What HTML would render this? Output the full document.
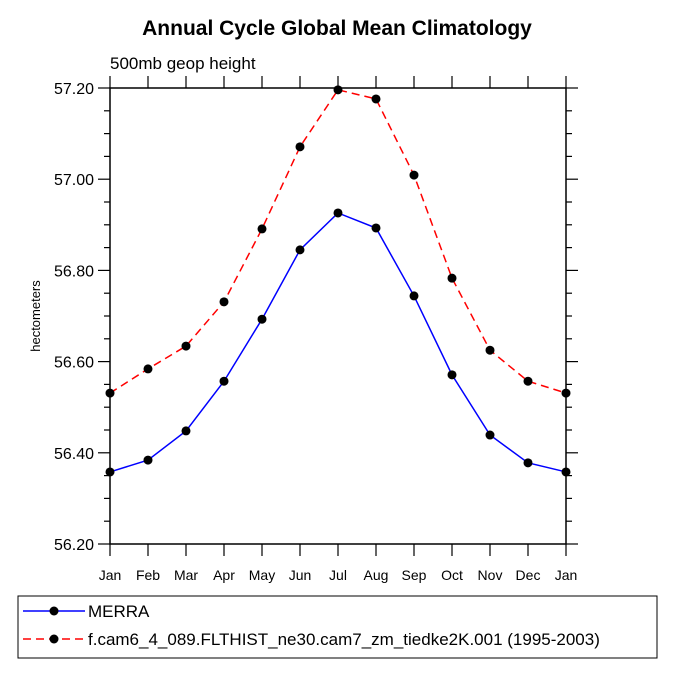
<!DOCTYPE html>
<html><head><meta charset="utf-8"><style>body{margin:0;background:#fff}svg{font-family:"Liberation Sans",Arial,sans-serif}</style></head>
<body>
<svg id="c" width="675" height="675"></svg>
<script>
const months=["Jan","Feb","Mar","Apr","May","Jun","Jul","Aug","Sep","Oct","Nov","Dec","Jan"];
const merra=[56.358,56.384,56.448,56.557,56.693,56.845,56.926,56.893,56.744,56.571,56.439,56.378,56.358];
const cam=[56.531,56.584,56.634,56.731,56.891,57.071,57.196,57.176,57.009,56.783,56.625,56.557,56.531];
const yTicks=[56.2,56.4,56.6,56.8,57.0,57.2];
const yTickLabels=["56.20","56.40","56.60","56.80","57.00","57.20"];
const X0=110,X1=566,Y0=544,Y1=88,YMIN=56.2,YMAX=57.2;
const sx=i=>X0+(X1-X0)*i/(months.length-1);
const sy=v=>Y0-(v-YMIN)/(YMAX-YMIN)*(Y0-Y1);
const svg=document.getElementById('c');const NS="http://www.w3.org/2000/svg";
function mk(t,a,txt){const e=document.createElementNS(NS,t);for(const k in a)e.setAttribute(k,a[k]);if(txt!=null)e.textContent=txt;svg.appendChild(e);return e;}
let e;
e=mk('text',{x:337,y:35,'text-anchor':'middle','font-size':21,'font-weight':'bold'},'Annual Cycle Global Mean Climatology');


e=mk('text',{x:110,y:69,'font-size':17},'500mb geop height');


e=mk('text',{x:0,y:0,'font-size':13,'text-anchor':'middle',transform:'translate(40,316) rotate(-90)'},'hectometers');


e=mk('rect',{x:X0,y:Y1,width:X1-X0,height:Y0-Y1,fill:'none',stroke:'#000','stroke-width':1.5});


for(let v=YMIN;v<=YMAX+1e-9;v+=0.05){const y=sy(v);const maj=Math.abs(Math.round(v*5)-v*5)<1e-6;const L=maj?12:6;
e=mk('line',{x1:X0-L,x2:X0,y1:y,y2:y,stroke:'#000','stroke-width':1.2});


e=mk('line',{x1:X1,x2:X1+L,y1:y,y2:y,stroke:'#000','stroke-width':1.2});

}
yTicks.forEach((v,i)=>{e=mk('text',{x:X0-16,y:sy(v)+6,'text-anchor':'end','font-size':16},yTickLabels[i]);

});
months.forEach((m,i)=>{const x=sx(i);
e=mk('line',{x1:x,x2:x,y1:Y0,y2:Y0+12,stroke:'#000','stroke-width':1.2});


e=mk('line',{x1:x,x2:x,y1:Y1-12,y2:Y1,stroke:'#000','stroke-width':1.2});


e=mk('text',{x:x,y:Y0+36,'text-anchor':'middle','font-size':14},m);

});
function series(vals,color,dash,name){
e=mk('polyline',{points:vals.map((v,i)=>sx(i)+','+sy(v)).join(' '),fill:'none',stroke:color,'stroke-width':1.5,'stroke-dasharray':dash});


vals.forEach((v,i)=>{e=mk('circle',{cx:sx(i),cy:sy(v),r:4.5,fill:'#000'});

});}
series(merra,'#00f','none','merra');
series(cam,'#f00','8,5','cam');
e=mk('rect',{x:18,y:596,width:639,height:62,fill:'none',stroke:'#000','stroke-width':1});


e=mk('line',{x1:23,x2:85,y1:611,y2:611,stroke:'#00f','stroke-width':1.5});


e=mk('circle',{cx:54,cy:611,r:4.5,fill:'#000'});


e=mk('text',{x:88,y:617,'font-size':17},'MERRA');


e=mk('line',{x1:23,x2:85,y1:639,y2:639,stroke:'#f00','stroke-width':1.5,'stroke-dasharray':'8,5'});


e=mk('circle',{cx:54,cy:639,r:4.5,fill:'#000'});


e=mk('text',{x:88,y:645,'font-size':17},'f.cam6_4_089.FLTHIST_ne30.cam7_zm_tiedke2K.001 (1995-2003)');


</script>
</body></html>
